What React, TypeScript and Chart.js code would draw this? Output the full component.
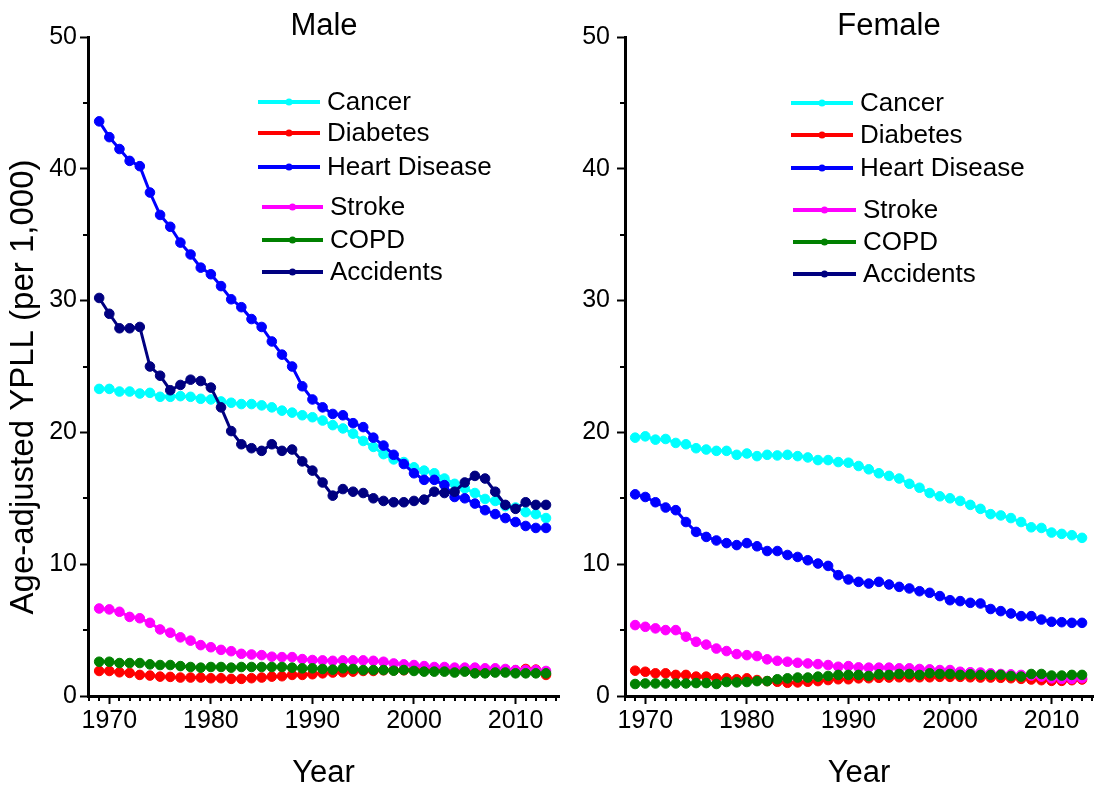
import React, { useEffect, useRef } from 'react';
import { Chart, registerables } from 'chart.js';

Chart.register(...registerables);

const FONT = '"Liberation Sans", Arial, sans-serif';

const years = [
  1969, 1970, 1971, 1972, 1973, 1974, 1975, 1976, 1977, 1978,
  1979, 1980, 1981, 1982, 1983, 1984, 1985, 1986, 1987, 1988,
  1989, 1990, 1991, 1992, 1993, 1994, 1995, 1996, 1997, 1998,
  1999, 2000, 2001, 2002, 2003, 2004, 2005, 2006, 2007, 2008,
  2009, 2010, 2011, 2012, 2013,
];

const seriesNames = ['Cancer', 'Diabetes', 'Heart Disease', 'Stroke', 'COPD', 'Accidents'];
const seriesColors = ['#00FFFF', '#FF0000', '#0000FF', '#FF00FF', '#008000', '#000080'];

const xMajorTicks = [1970, 1980, 1990, 2000, 2010];
const yMajorTicks = [0, 10, 20, 30, 40, 50];
const yMinorTicks = [5, 15, 25, 35, 45];

// ---------- Male ----------
const maleCancer = [
  23.3, 23.3, 23.1, 23.1, 22.95, 23.0, 22.7, 22.7, 22.75, 22.7,
  22.55, 22.5, 22.35, 22.25, 22.15, 22.15, 22.05, 21.9, 21.65, 21.5,
  21.3, 21.15, 20.9, 20.55, 20.3, 19.9, 19.35, 18.9, 18.35, 17.95,
  17.75, 17.35, 17.1, 16.9, 16.5, 16.1, 15.75, 15.4, 14.95, 14.8,
  14.4, 14.3, 13.95, 13.8, 13.5,
];
const maleDiabetes = [
  1.9, 1.9, 1.8, 1.75, 1.6, 1.55, 1.47, 1.45, 1.4, 1.4,
  1.4, 1.35, 1.35, 1.3, 1.3, 1.35, 1.4, 1.47, 1.5, 1.6,
  1.6, 1.65, 1.72, 1.78, 1.8, 1.85, 1.9, 1.9, 1.95, 1.95,
  1.95, 2.0, 2.0, 2.0, 2.0, 1.95, 1.95, 1.95, 1.9, 1.9,
  1.9, 1.95, 2.05, 2.0, 1.6,
];
const maleHeart = [
  43.6, 42.4, 41.5, 40.6, 40.2, 38.2, 36.5, 35.6, 34.4, 33.5,
  32.5, 32.0, 31.1, 30.1, 29.5, 28.6, 28.0, 26.9, 25.9, 25.0,
  23.5, 22.5, 21.9, 21.4, 21.3, 20.7, 20.4, 19.6, 19.0, 18.3,
  17.6, 16.9, 16.4, 16.4, 16.0, 15.1, 15.0, 14.6, 14.1, 13.8,
  13.5, 13.2, 12.9, 12.75, 12.75,
];
const maleStroke = [
  6.64, 6.57, 6.39, 6.0, 5.9, 5.55, 5.05, 4.8, 4.45, 4.2,
  3.86, 3.7, 3.5, 3.4, 3.2, 3.15, 3.1, 2.98, 2.95, 2.95,
  2.8, 2.73, 2.7, 2.67, 2.7, 2.7, 2.7, 2.67, 2.6, 2.47,
  2.4, 2.35, 2.27, 2.2, 2.2, 2.15, 2.15, 2.15, 2.1, 2.1,
  2.05, 1.97, 1.97, 1.97, 1.9,
];
const maleCOPD = [
  2.6, 2.6, 2.5, 2.5, 2.5, 2.4, 2.35, 2.35, 2.27, 2.2,
  2.15, 2.2, 2.2, 2.15, 2.2, 2.2, 2.2, 2.2, 2.2, 2.15,
  2.1, 2.1, 2.05, 2.0, 2.1, 2.05, 1.97, 1.97, 1.97, 1.92,
  1.97, 1.9, 1.85, 1.85, 1.85, 1.78, 1.85, 1.72, 1.72, 1.78,
  1.78, 1.72, 1.72, 1.72, 1.72,
];
const maleAccidents = [
  30.2, 29.0, 27.9, 27.9, 28.0, 25.0, 24.3, 23.2, 23.6, 24.0,
  23.9, 23.4, 21.9, 20.1, 19.1, 18.8, 18.6, 19.1, 18.6, 18.7,
  17.8, 17.1, 16.2, 15.2, 15.7, 15.5, 15.4, 15.0, 14.8, 14.7,
  14.7, 14.8, 14.9, 15.5, 15.4, 15.5, 16.2, 16.7, 16.5, 15.5,
  14.5, 14.2, 14.7, 14.5, 14.5,
];

// ---------- Female ----------
const femaleCancer = [
  19.6, 19.7, 19.45, 19.5, 19.2, 19.1, 18.8, 18.7, 18.6, 18.6,
  18.3, 18.4, 18.2, 18.3, 18.25, 18.3, 18.2, 18.1, 17.9, 17.9,
  17.75, 17.7, 17.45, 17.2, 16.9, 16.7, 16.5, 16.1, 15.8, 15.4,
  15.15, 15.0, 14.8, 14.5, 14.2, 13.8, 13.7, 13.5, 13.2, 12.8,
  12.75, 12.4, 12.3, 12.2, 12.0,
];
const femaleDiabetes = [
  1.92, 1.84, 1.72, 1.72, 1.6, 1.6, 1.47, 1.47, 1.34, 1.34,
  1.27, 1.34, 1.21, 1.13, 1.08, 1.0, 1.03, 1.08, 1.13, 1.21,
  1.27, 1.27, 1.34, 1.35, 1.38, 1.4, 1.42, 1.42, 1.42, 1.42,
  1.45, 1.45, 1.45, 1.42, 1.4, 1.4, 1.38, 1.35, 1.3, 1.25,
  1.2, 1.15, 1.15, 1.2, 1.25,
];
const femaleHeart = [
  15.3, 15.1, 14.7, 14.3, 14.1, 13.2, 12.45, 12.07, 11.8, 11.6,
  11.45, 11.6, 11.36, 11.0, 11.0, 10.7, 10.55, 10.3, 10.05, 9.87,
  9.17, 8.84, 8.66, 8.53, 8.66, 8.46, 8.28, 8.16, 7.95, 7.83,
  7.58, 7.27, 7.2, 7.07, 7.02, 6.6, 6.44, 6.26, 6.06, 6.06,
  5.8, 5.63, 5.6, 5.55, 5.55,
];
const femaleStroke = [
  5.38, 5.25, 5.13, 5.0, 5.0, 4.5, 4.11, 3.9, 3.6, 3.41,
  3.18, 3.1, 3.03, 2.78, 2.67, 2.6, 2.52, 2.47, 2.42, 2.35,
  2.22, 2.27, 2.17, 2.15, 2.15, 2.15, 2.1, 2.1, 2.05, 2.02,
  1.97, 1.97, 1.84, 1.8, 1.78, 1.72, 1.67, 1.64, 1.6, 1.55,
  1.47, 1.34, 1.3, 1.3, 1.35,
];
const femaleCOPD = [
  0.91, 0.95, 0.95, 0.95, 0.95, 0.95, 0.98, 0.98, 0.91, 1.06,
  1.03, 1.06, 1.13, 1.13, 1.27, 1.34, 1.4, 1.4, 1.47, 1.52,
  1.6, 1.6, 1.6, 1.52, 1.64, 1.6, 1.67, 1.67, 1.6, 1.72,
  1.67, 1.67, 1.6, 1.64, 1.6, 1.6, 1.6, 1.52, 1.47, 1.67,
  1.67, 1.55, 1.55, 1.6, 1.6,
];
const femaleAccidents: number[] = [];

const maleSeries = [maleCancer, maleDiabetes, maleHeart, maleStroke, maleCOPD, maleAccidents];
const femaleSeries = [femaleCancer, femaleDiabetes, femaleHeart, femaleStroke, femaleCOPD, femaleAccidents];

type PanelCfg = {
  title: string;
  series: number[][];
  left: number;
  width: number;
  height: number;
  xMin: number;
  xMax: number;
  yAxisWidth: number;
  padRight: number;
  yTickPad: number;
  titleX: number;
  titleBaseline: number;
  xTitleBaseline: number;
  yTitle?: string;
  yTitleX?: number;
  yTitleY?: number;
  legendLineA: [number, number];
  legendLineB: [number, number];
  legendTextA: number;
  legendTextB: number;
  legendRows: number[];
};

const maleCfg: PanelCfg = {
  title: 'Male',
  series: maleSeries,
  left: 0,
  width: 565,
  height: 789,
  xMin: 1967.9,
  xMax: 2014.3,
  yAxisWidth: 88,
  padRight: 5,
  yTickPad: 3,
  titleX: 324,
  titleBaseline: 35,
  xTitleBaseline: 782,
  yTitle: 'Age-adjusted YPLL (per 1,000)',
  yTitleX: 33,
  yTitleY: 387,
  legendLineA: [258, 320],
  legendLineB: [262, 323],
  legendTextA: 327,
  legendTextB: 330,
  legendRows: [102, 133, 167, 207, 240, 272],
};

const femaleCfg: PanelCfg = {
  title: 'Female',
  series: femaleSeries,
  left: 565,
  width: 534,
  height: 789,
  xMin: 1968.0,
  xMax: 2014.1,
  yAxisWidth: 60,
  padRight: 4,
  yTickPad: 7,
  titleX: 324,
  titleBaseline: 35,
  xTitleBaseline: 782,
  legendLineA: [226, 288],
  legendLineB: [228, 291],
  legendTextA: 295,
  legendTextB: 298,
  legendRows: [103, 135, 168, 210, 242, 274],
};

function Panel({ cfg }: { cfg: PanelCfg }) {
  const ref = useRef<HTMLCanvasElement | null>(null);

  useEffect(() => {
    if (!ref.current) return;

    const decor = {
      id: 'decor',
      afterDraw(chart: any) {
        const ctx = chart.ctx as CanvasRenderingContext2D;
        const xs = chart.scales.x;
        const ys = chart.scales.y;
        const area = chart.chartArea;
        ctx.save();
        ctx.strokeStyle = '#000';
        ctx.lineWidth = 2;
        // minor x ticks (every year)
        for (let v = Math.ceil(xs.min); v <= xs.max; v++) {
          if (v % 10 === 0) continue;
          const px = Math.round(xs.getPixelForValue(v));
          ctx.beginPath();
          ctx.moveTo(px, area.bottom);
          ctx.lineTo(px, area.bottom + 5);
          ctx.stroke();
        }
        // minor y ticks
        for (const v of yMinorTicks) {
          const py = Math.round(ys.getPixelForValue(v));
          ctx.beginPath();
          ctx.moveTo(area.left, py);
          ctx.lineTo(area.left - 5, py);
          ctx.stroke();
        }
        // titles
        ctx.fillStyle = '#000';
        ctx.font = `31px ${FONT}`;
        ctx.textAlign = 'center';
        ctx.textBaseline = 'alphabetic';
        ctx.fillText(cfg.title, cfg.titleX, cfg.titleBaseline);
        ctx.fillText('Year', (area.left + area.right) / 2, cfg.xTitleBaseline);
        if (cfg.yTitle) {
          ctx.save();
          ctx.translate(cfg.yTitleX as number, cfg.yTitleY as number);
          ctx.rotate(-Math.PI / 2);
          ctx.font = `33px ${FONT}`;
          ctx.fillText(cfg.yTitle, 0, 0);
          ctx.restore();
        }
        // legend
        ctx.font = `26px ${FONT}`;
        ctx.textAlign = 'left';
        ctx.textBaseline = 'middle';
        seriesNames.forEach((name, i) => {
          const y = cfg.legendRows[i];
          const [x1, x2] = i < 3 ? cfg.legendLineA : cfg.legendLineB;
          const tx = i < 3 ? cfg.legendTextA : cfg.legendTextB;
          ctx.strokeStyle = seriesColors[i];
          ctx.lineWidth = 4;
          ctx.beginPath();
          ctx.moveTo(x1, y);
          ctx.lineTo(x2, y);
          ctx.stroke();
          ctx.fillStyle = seriesColors[i];
          ctx.beginPath();
          ctx.arc((x1 + x2) / 2, y, 3.5, 0, Math.PI * 2);
          ctx.fill();
          ctx.fillStyle = '#000';
          ctx.fillText(name, tx, y + 1);
        });
        ctx.restore();
      },
    };

    const datasets = cfg.series.map((vals, i) => ({
      label: seriesNames[i],
      data: vals.map((v, k) => ({ x: years[k], y: v })),
      borderColor: seriesColors[i],
      backgroundColor: seriesColors[i],
      pointBackgroundColor: seriesColors[i],
      pointBorderColor: seriesColors[i],
      borderWidth: 3,
      pointRadius: 4.8,
      pointBorderWidth: 1,
      tension: 0,
      order: seriesNames.length - 1 - i,
    }));

    const chart = new Chart(ref.current, {
      type: 'line',
      data: { datasets },
      options: {
        responsive: false,
        animation: false,
        layout: { padding: { left: 0, right: cfg.padRight, top: 37, bottom: 0 } },
        plugins: {
          legend: { display: false },
          title: { display: false },
          tooltip: { enabled: false },
        },
        scales: {
          x: {
            type: 'linear',
            min: cfg.xMin,
            max: cfg.xMax,
            afterBuildTicks: (s: any) => {
              s.ticks = xMajorTicks.map((v) => ({ value: v }));
            },
            afterFit: (s: any) => {
              s.height = cfg.height - 696;
            },
            grid: {
              display: true,
              drawOnChartArea: false,
              drawTicks: true,
              tickLength: 8,
              tickWidth: 2,
              tickColor: '#000',
            },
            border: { display: true, color: '#000', width: 3 },
            ticks: {
              color: '#000',
              font: { family: FONT, size: 25 },
              padding: 2,
              maxRotation: 0,
              autoSkip: false,
              callback: (v: any) => String(v),
            },
          },
          y: {
            type: 'linear',
            min: 0,
            max: 50,
            afterBuildTicks: (s: any) => {
              s.ticks = yMajorTicks.map((v) => ({ value: v }));
            },
            afterFit: (s: any) => {
              s.width = cfg.yAxisWidth;
            },
            grid: {
              display: true,
              drawOnChartArea: false,
              drawTicks: true,
              tickLength: 8,
              tickWidth: 2,
              tickColor: '#000',
            },
            border: { display: true, color: '#000', width: 3 },
            ticks: {
              color: '#000',
              font: { family: FONT, size: 25 },
              padding: cfg.yTickPad,
              autoSkip: false,
              callback: (v: any) => String(v),
            },
          },
        },
      },
      plugins: [decor],
    } as any);

    return () => chart.destroy();
  }, [cfg]);

  return (
    <canvas
      ref={ref}
      width={cfg.width}
      height={cfg.height}
      style={{ position: 'absolute', left: cfg.left, top: 0, width: cfg.width, height: cfg.height }}
    />
  );
}

export default function App() {
  return (
    <div style={{ position: 'absolute', left: 0, top: 0, width: 1099, height: 789, background: '#fff' }}>
      <Panel cfg={maleCfg} />
      <Panel cfg={femaleCfg} />
    </div>
  );
}
